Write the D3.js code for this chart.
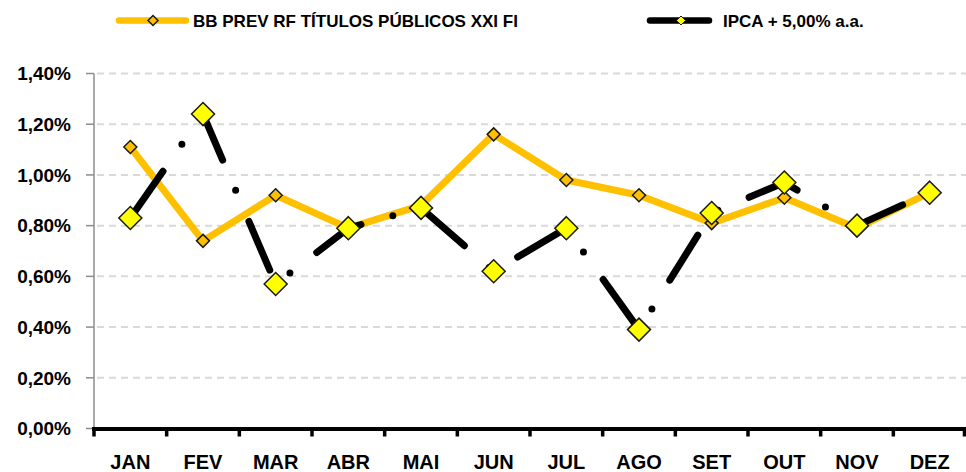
<!DOCTYPE html>
<html>
<head>
<meta charset="utf-8">
<script src="https://cdn.jsdelivr.net/npm/d3@7"></script>
<style>
  html, body { margin: 0; padding: 0; background: #fff; }
  svg { display: block; }
  text { font-family: "Liberation Sans", Arial, sans-serif; font-weight: bold; fill: #000; }
</style>
</head>
<body>
<svg id="chart" width="966" height="472"></svg>
<script>
// month categories
var months = ["JAN", "FEV", "MAR", "ABR", "MAI", "JUN", "JUL", "AGO", "SET", "OUT", "NOV", "DEZ"];
// monthly returns, in %
var fundValues = [1.11, 0.74, 0.92, 0.79, 0.88, 1.16, 0.98, 0.92, 0.81, 0.91, 0.79, 0.93];
var ipcaValues = [0.83, 1.24, 0.57, 0.79, 0.87, 0.62, 0.79, 0.39, 0.85, 0.97, 0.80, 0.93];
var yTicks = [0, 0.2, 0.4, 0.6, 0.8, 1.0, 1.2, 1.4];
var seriesNames = ["BB PREV RF TÍTULOS PÚBLICOS XXI FI", "IPCA + 5,00% a.a."];

var svg = d3.select("#chart");
// plot area edges (note: "top" is a reserved window global, so use other names)
var plotLeft = 94, plotRight = 966, plotTop = 73.5, plotBottom = 428.5;

var x = d3.scaleBand().domain(months).range([plotLeft, plotRight]);
var y = d3.scaleLinear().domain([0, 1.4]).range([plotBottom, plotTop]);
var fmt = function (v) { return d3.format(".2f")(v).replace(".", ",") + "%"; };

// dashed grid lines
svg.append("g").selectAll("line")
    .data(yTicks.filter(function (t) { return t > 0; }))
    .join("line")
    .attr("x1", plotLeft + 3).attr("x2", plotRight)
    .attr("y1", function (d) { return y(d); })
    .attr("y2", function (d) { return y(d); })
    .attr("stroke", "#d9d9d9")
    .attr("stroke-width", 2)
    .attr("stroke-dasharray", "7,5");

// y axis
var yAxis = svg.append("g");
yAxis.append("line")
    .attr("x1", plotLeft).attr("x2", plotLeft)
    .attr("y1", y(1.4)).attr("y2", plotBottom)
    .attr("stroke", "#8c8c8c").attr("stroke-width", 1.5);
yAxis.selectAll(".tick")
    .data(yTicks)
    .join("line")
    .attr("x1", plotLeft - 8).attr("x2", plotLeft)
    .attr("y1", function (d) { return y(d); })
    .attr("y2", function (d) { return y(d); })
    .attr("stroke", "#8c8c8c").attr("stroke-width", 1.5);
yAxis.selectAll("text")
    .data(yTicks)
    .join("text")
    .attr("x", 71)
    .attr("y", function (d) { return y(d) + 6.8; })
    .attr("text-anchor", "end")
    .attr("font-size", 19)
    .text(fmt);

// x axis: thick black line with ticks on category boundaries
var xAxis = svg.append("g");
var bounds = months.map(function (m) { return x(m); }).concat([plotRight - 1.5]);
xAxis.append("line")
    .attr("x1", plotLeft - 2).attr("x2", plotRight)
    .attr("y1", plotBottom + 0.5).attr("y2", plotBottom + 0.5)
    .attr("stroke", "#000").attr("stroke-width", 4);
xAxis.selectAll(".tick")
    .data(bounds)
    .join("line")
    .attr("x1", function (d) { return d; })
    .attr("x2", function (d) { return d; })
    .attr("y1", plotBottom).attr("y2", plotBottom + 8)
    .attr("stroke", "#000").attr("stroke-width", 3.5);
xAxis.selectAll("text")
    .data(months)
    .join("text")
    .attr("x", function (d) { return x(d) + x.bandwidth() / 2; })
    .attr("y", 469)
    .attr("text-anchor", "middle")
    .attr("font-size", 20)
    .text(function (d) { return d; });

var cx = function (d, i) { return x(months[i]) + x.bandwidth() / 2; };
var line = d3.line().x(cx).y(function (d) { return y(d); });

function diamond(r) {
    return "M0," + (-r) + "L" + r + ",0L0," + r + "L" + (-r) + ",0Z";
}

// series lines
svg.append("path")
    .datum(fundValues)
    .attr("d", line)
    .attr("fill", "none")
    .attr("stroke", "#ffc000")
    .attr("stroke-width", 7)
    .attr("stroke-linejoin", "round");

// long dash - dot pattern, runs continuously along the whole polyline
svg.append("path")
    .datum(ipcaValues)
    .attr("d", line)
    .attr("fill", "none")
    .attr("stroke", "#000")
    .attr("stroke-width", 7)
    .attr("stroke-linecap", "round")
    .attr("stroke-linejoin", "round")
    .attr("stroke-dasharray", "53,33,0,33.8")
    .attr("stroke-dashoffset", -4);

// markers
svg.append("g").selectAll("path")
    .data(fundValues)
    .join("path")
    .attr("transform", function (d, i) { return "translate(" + cx(d, i) + "," + y(d) + ")"; })
    .attr("d", diamond(6.5))
    .attr("fill", "#ffc000")
    .attr("stroke", "#1a1a1a")
    .attr("stroke-width", 1.5);

svg.append("g").selectAll("path")
    .data(ipcaValues)
    .join("path")
    .attr("transform", function (d, i) { return "translate(" + cx(d, i) + "," + y(d) + ")"; })
    .attr("d", diamond(11.5))
    .attr("fill", "#ffff00")
    .attr("stroke", "#1a1a1a")
    .attr("stroke-width", 1.5);

// legend
var legend = svg.append("g");
var leg1 = legend.append("g").attr("transform", "translate(0,20.5)");
leg1.append("line").attr("x1", 119).attr("x2", 186)
    .attr("stroke", "#ffc000").attr("stroke-width", 6.5).attr("stroke-linecap", "round");
leg1.append("path").attr("transform", "translate(153,0)").attr("d", diamond(5))
    .attr("fill", "#ffc000").attr("stroke", "#1a1a1a").attr("stroke-width", 1.5);
leg1.append("text").attr("x", 193).attr("y", 6.2).attr("font-size", 17).text(seriesNames[0]);

var leg2 = legend.append("g").attr("transform", "translate(0,20.5)");
leg2.append("line").attr("x1", 650).attr("x2", 709)
    .attr("stroke", "#000").attr("stroke-width", 6.5).attr("stroke-linecap", "round");
leg2.append("path").attr("transform", "translate(681,0)").attr("d", diamond(4.5))
    .attr("fill", "#ffff00").attr("stroke", "#1a1a1a").attr("stroke-width", 1);
leg2.append("text").attr("x", 723).attr("y", 6.2).attr("font-size", 17).text(seriesNames[1]);
</script>
</body>
</html>
